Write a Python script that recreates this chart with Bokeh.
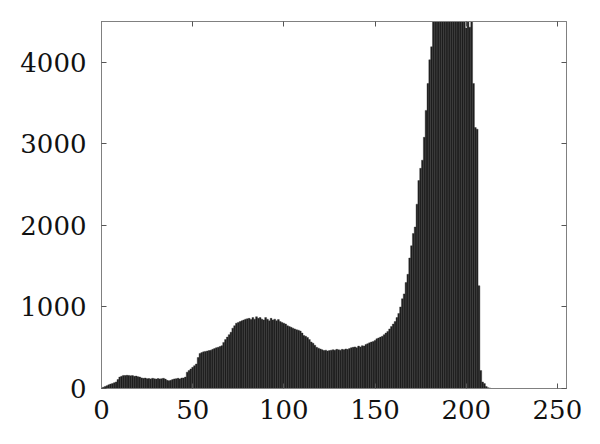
from bokeh.plotting import figure
from bokeh.models import LinearAxis, Range1d, FixedTicker, ColumnDataSource, CustomJSTickFormatter
from bokeh.embed import file_html
from bokeh.resources import INLINE

# Histogram of intensity levels 0..255 (values above 4500 are clipped by the axis)
levels = list(range(256))
counts = [
    5, 15, 25, 35, 45, 55, 60, 70, 80, 110,            # 0-9
    140, 150, 160, 158, 162, 160, 155, 158, 150, 152,  # 10-19
    145, 140, 130, 125, 128, 120, 122, 118, 125, 120,  # 20-29
    115, 122, 118, 120, 125, 115, 100, 95, 100, 110,   # 30-39
    118, 120, 125, 118, 128, 130, 140, 200, 220, 240,  # 40-49
    260, 280, 300, 380, 430, 440, 450, 455, 460, 465,  # 50-59
    470, 480, 490, 500, 505, 515, 525, 565, 600, 630,  # 60-69
    660, 690, 740, 770, 800, 810, 820, 830, 840, 850,  # 70-79
    855, 860, 845, 870, 850, 880, 860, 870, 850, 840,  # 80-89
    870, 850, 830, 860, 840, 850, 830, 845, 820, 810,  # 90-99
    800, 790, 770, 760, 750, 740, 730, 720, 715, 705,  # 100-109
    680, 650, 640, 625, 600, 570, 555, 530, 505, 495,  # 110-119
    485, 475, 465, 470, 460, 465, 470, 475, 470, 480,  # 120-129
    475, 470, 480, 475, 485, 480, 490, 500, 505, 510,  # 130-139
    500, 520, 510, 525, 520, 540, 550, 560, 570, 575,  # 140-149
    590, 610, 620, 630, 640, 660, 680, 700, 730, 760,  # 150-159
    790, 820, 870, 920, 1000, 1100, 1160, 1300, 1400, 1600,   # 160-169
    1750, 1900, 1980, 2260, 2550, 2700, 2800, 3080, 3410, 3740,  # 170-179
    4030, 4190, 4700, 5000, 5300, 5600, 5800, 6000, 6100, 6200,  # 180-189
    6250, 6200, 6100, 6000, 5900, 5800, 5600, 5400, 5200, 5000,  # 190-199
    4420, 4800, 4430, 4700, 3740, 3200, 3180, 1260, 220, 80,     # 200-209
    60, 25, 10, 5, 0, 0, 0, 0, 0, 0,                   # 210-219
    0, 0, 0, 0, 0, 0, 0, 0, 0, 0,                      # 220-229
    0, 0, 0, 0, 0, 0, 0, 0, 0, 0,                      # 230-239
    0, 0, 0, 0, 0, 0, 0, 0, 0, 0,                      # 240-249
    0, 0, 0, 0, 0, 0,                                  # 250-255
]
x_ticks = [0, 50, 100, 150, 200, 250]
y_ticks = [0, 1000, 2000, 3000, 4000]

src = ColumnDataSource(dict(x=levels, count=counts))

p = figure(frame_width=465, frame_height=367,
           x_range=Range1d(0, 255), y_range=Range1d(0, 4500),
           output_backend="svg", toolbar_location=None,
           min_border_left=101, min_border_top=21,
           min_border_right=26, min_border_bottom=48)

p.vbar(x="x", top="count", bottom=0, width=1, source=src,
       fill_color="#1e1e1e", line_color="#333333", line_width=0.4)

p.grid.visible = False
p.outline_line_color = "#808080"
p.background_fill_color = "white"
p.border_fill_color = "white"

FONT = "DejaVu Serif"

def style(ax, ticks, labels=True):
    ax.ticker = FixedTicker(ticks=ticks)
    ax.axis_line_color = "#808080"
    ax.major_tick_line_color = "#555555"
    ax.major_tick_in = 5
    ax.major_tick_out = 0
    ax.minor_tick_line_color = None
    ax.major_label_text_font = FONT
    ax.major_label_text_font_size = "26px"
    ax.major_label_text_color = "#111111"
    if not labels:
        ax.formatter = CustomJSTickFormatter(code="return ''")

style(p.xaxis[0], x_ticks)
p.xaxis[0].major_label_standoff = 11
style(p.yaxis[0], y_ticks)
p.yaxis[0].major_label_standoff = 15

top_ax = LinearAxis()
style(top_ax, x_ticks, labels=False)
top_ax.major_label_standoff = 0
p.add_layout(top_ax, "above")

right_ax = LinearAxis()
style(right_ax, y_ticks, labels=False)
right_ax.major_label_standoff = 0
p.add_layout(right_ax, "right")

open("out.html", "w").write(file_html(p, INLINE))
